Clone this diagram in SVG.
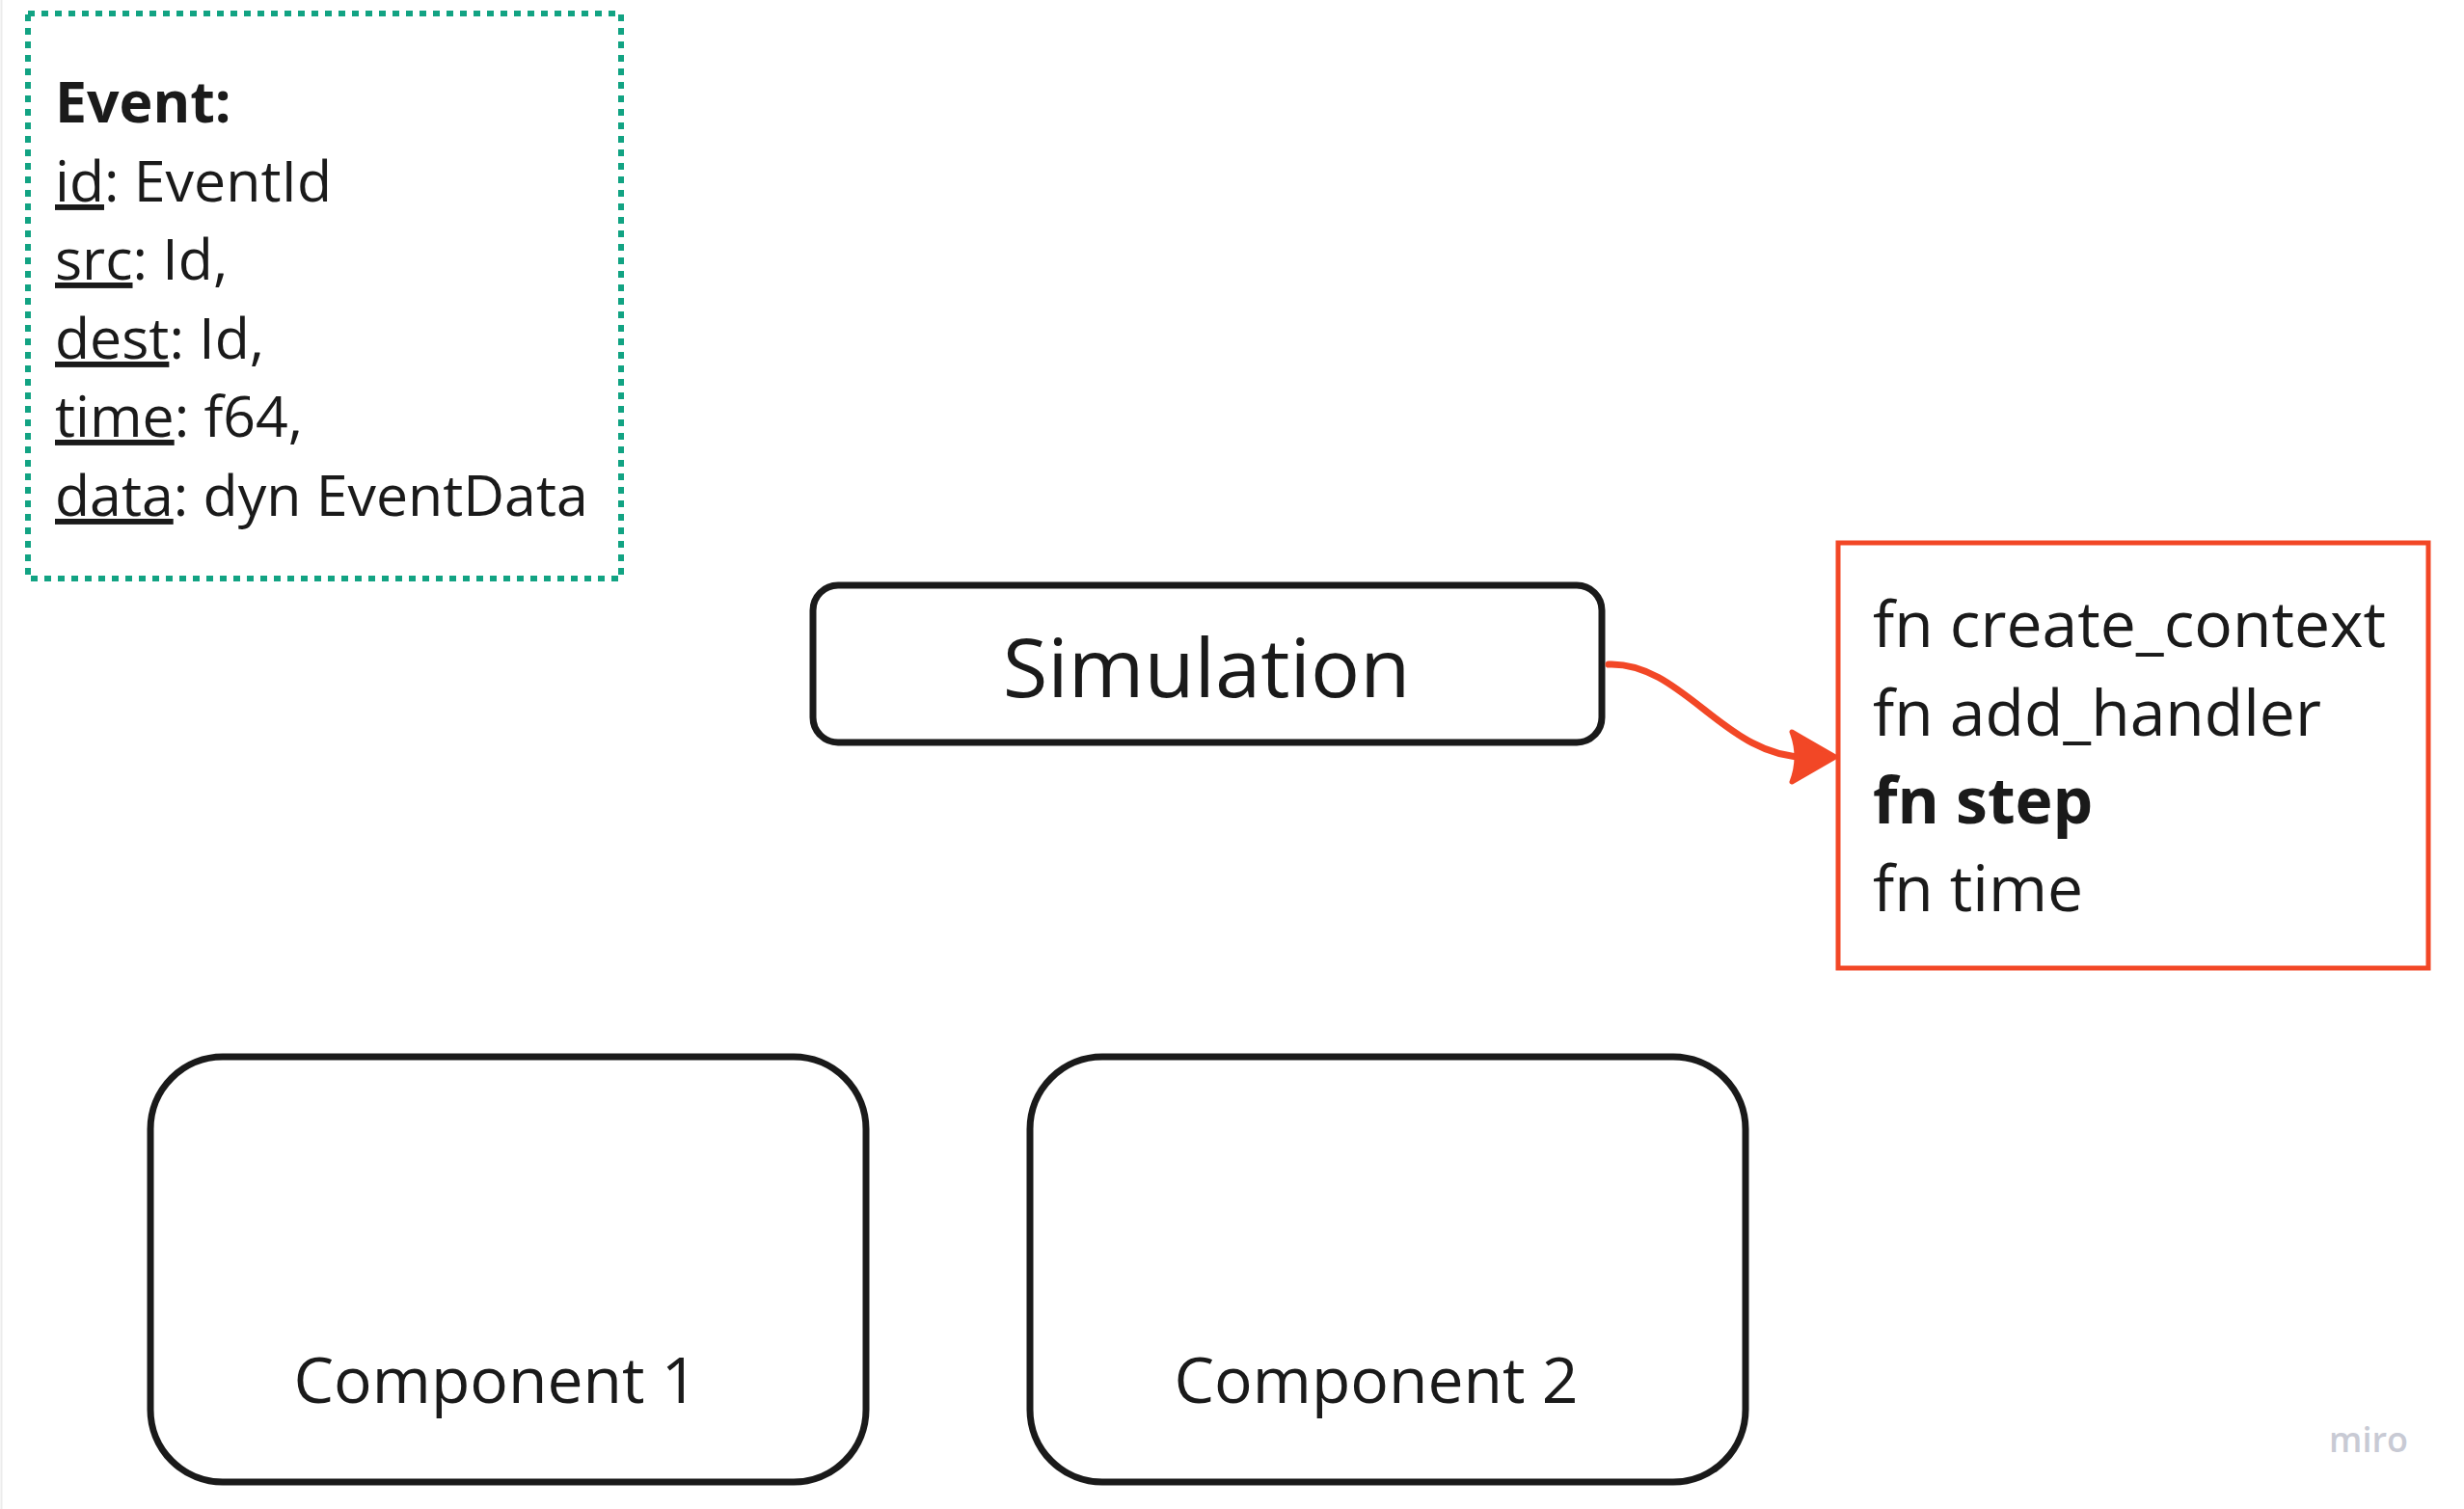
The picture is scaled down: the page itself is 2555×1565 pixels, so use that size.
<svg xmlns="http://www.w3.org/2000/svg" width="2555" height="1565" viewBox="0 0 2555 1565">
<style>
text{font-family:"Open Sans","Noto Sans","DejaVu Sans",sans-serif;fill:#1a1a1a}
.box{fill:#ffffff;stroke:#1a1a1a;stroke-width:7}
.ev{font-size:59px}
.fn{font-size:66px}
.u{text-decoration:underline}
</style>
<rect x="0" y="0" width="2555" height="1565" fill="#ffffff"/>
<rect x="1.5" y="-5" width="2560" height="2566.5" fill="none" stroke="#ececec" stroke-width="2"/>
<g id="event">
<rect x="29" y="14" width="615" height="586" fill="none" stroke="#12a383" stroke-width="6" stroke-dasharray="7 7"/>
<text class="ev" x="57" y="127" font-weight="bold">Event:</text>
<text class="ev" x="57" y="209"><tspan class="u">id</tspan>: EventId</text>
<text class="ev" x="57" y="290"><tspan class="u">src</tspan>: Id,</text>
<text class="ev" x="57" y="372"><tspan class="u">dest</tspan>: Id,</text>
<text class="ev" x="57" y="453"><tspan class="u">time</tspan>: f64,</text>
<text class="ev" x="57" y="535"><tspan class="u">data</tspan>: dyn EventData</text>
</g>
<g id="simulation">
<rect class="box" x="843" y="607" width="818" height="163" rx="26"/>
<text x="1251" y="723" font-size="85" text-anchor="middle">Simulation</text>
</g>
<g id="methods">
<rect x="1906" y="563" width="612" height="441" fill="#ffffff" stroke="#f24726" stroke-width="5"/>
<text class="fn" x="1942" y="671">fn create_context</text>
<text class="fn" x="1942" y="763">fn add_handler</text>
<text class="fn" x="1942" y="854" font-weight="bold">fn step</text>
<text class="fn" x="1942" y="945">fn time</text>
</g>
<g id="component1">
<rect class="box" x="156" y="1096" width="742" height="441" rx="75"/>
<text x="514" y="1455" font-size="66" text-anchor="middle">Component 1</text>
</g>
<g id="component2">
<rect class="box" x="1068" y="1096" width="742" height="441" rx="75"/>
<text x="1427" y="1455" font-size="66" text-anchor="middle">Component 2</text>
</g>
<g id="connectors">
<path d="M1668,689 C1745,686 1790,788 1875,785" fill="none" stroke="#f24726" stroke-width="7" stroke-linecap="round"/>
<path d="M1903,785 L1858,759 Q1868,785 1858,811 Z" fill="#f24726" stroke="#f24726" stroke-width="5" stroke-linejoin="round"/>
</g>
<text x="2456" y="1506" font-size="36" font-weight="600" text-anchor="middle" style="fill:#c8cad4">miro</text>
</svg>
